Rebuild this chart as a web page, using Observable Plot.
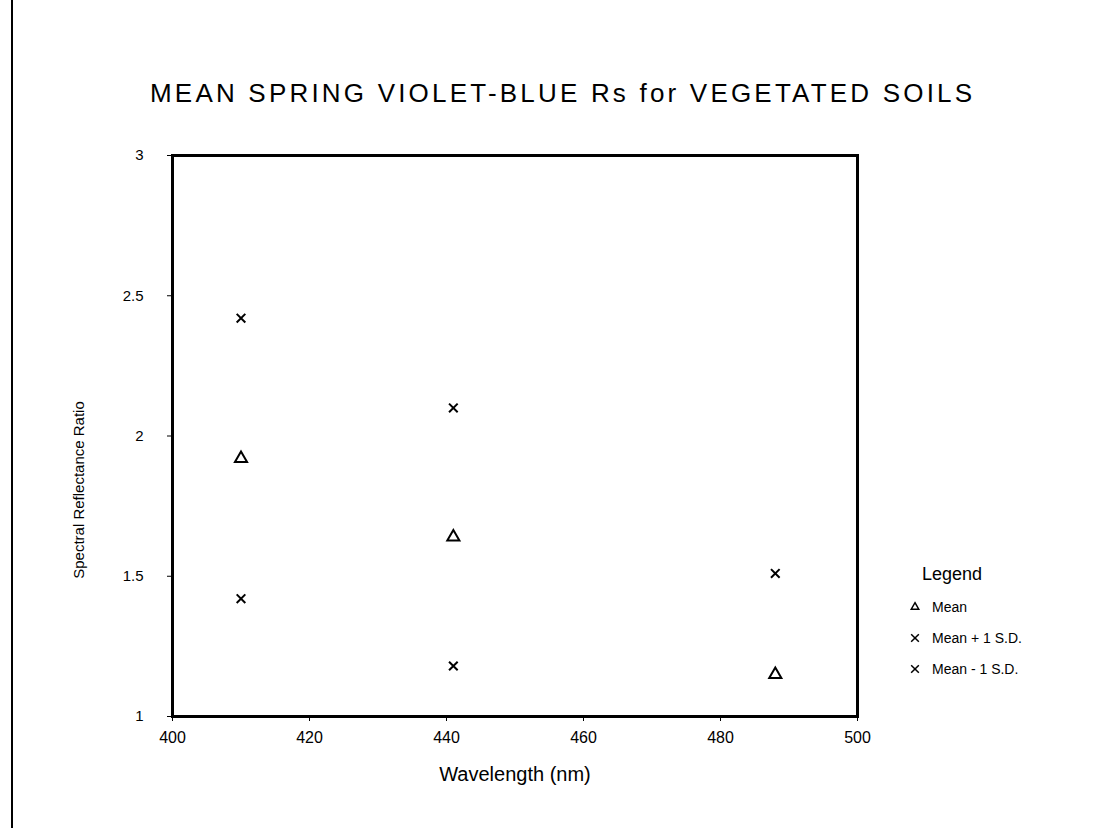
<!DOCTYPE html>
<html>
<head>
<meta charset="utf-8">
<script src="https://cdn.jsdelivr.net/npm/d3@7"></script>
<script src="https://cdn.jsdelivr.net/npm/@observablehq/plot@0.6"></script>
<style>
  html, body { margin: 0; padding: 0; background: #fff; }
  body { width: 1105px; height: 828px; position: relative; overflow: hidden;
         font-family: "Liberation Sans", "DejaVu Sans", sans-serif; color: #000; }
  #edge { position: absolute; left: 11px; top: 0; width: 2px; height: 828px; background: #000; }
  #title { position: absolute; left: 150px; top: 78px; font-size: 26px; letter-spacing: 3.2px; white-space: nowrap; font-weight: 300; }
  #ylab { position: absolute; left: 78px; top: 490px; font-size: 15px; white-space: nowrap;
          transform: translate(-50%, -50%) rotate(-90deg); }
  #legend { position: absolute; left: 908px; top: 564px; font-size: 14px; }
  #legend .hd { font-size: 18px; margin-left: 14px; margin-bottom: 6px; }
  #legend .row { display: flex; align-items: center; height: 31px; }
  #legend svg { margin-right: 10px; }
  #chart { position: absolute; left: 0; top: 0; }
</style>
</head>
<body>
<div id="edge"></div>
<div id="chart"></div>
<div id="title">MEAN SPRING VIOLET-BLUE Rs for VEGETATED SOILS</div>
<div id="ylab">Spectral Reflectance Ratio</div>
<div id="legend"></div>
<script>
// Data
const wavelengths = [410, 441, 488];
const meanValues = [1.92, 1.64, 1.15];
const plusSDValues = [2.42, 2.10, 1.51];
const minusSDWavelengths = [410, 441];
const minusSDValues = [1.42, 1.18];
const xTicks = [400, 420, 440, 460, 480, 500];
const yTicks = [1, 1.5, 2, 2.5, 3];
const legendLabels = ["Mean", "Mean + 1 S.D.", "Mean - 1 S.D."];
const legendSymbols = ["triangle", "times", "times"];

const mean = wavelengths.map((w, i) => ({x: w, y: meanValues[i]}));
const plus = wavelengths.map((w, i) => ({x: w, y: plusSDValues[i]}));
const minus = minusSDWavelengths.map((w, i) => ({x: w, y: minusSDValues[i]}));

const chart = Plot.plot({
  width: 1105,
  height: 828,
  marginLeft: 172,
  marginRight: 248,
  marginTop: 155,
  marginBottom: 112,
  style: {fontFamily: '"Liberation Sans", sans-serif', fontSize: "15px", color: "#000", background: "transparent"},
  x: {domain: [400, 500], label: "Wavelength (nm)"},
  y: {domain: [1, 3], label: null},
  marks: [
    Plot.frame({stroke: "#000", strokeWidth: 3}),
    Plot.axisX({ticks: xTicks, tickSize: 5, tickPadding: 10, fontSize: 16, label: "Wavelength (nm)", labelAnchor: "center", labelOffset: 64, labelArrow: "none", tickFormat: d => String(d)}),
    Plot.axisY({ticks: yTicks, tickSize: 5, tickPadding: 24, fontSize: 15, label: null, tickFormat: d => String(d)}),
    Plot.dot(mean, {x: "x", y: "y", symbol: "triangle", r: 4.5, stroke: "#000", strokeWidth: 2}),
    Plot.dot(plus, {x: "x", y: "y", symbol: "times", r: 4, stroke: "#000", strokeWidth: 2}),
    Plot.dot(minus, {x: "x", y: "y", symbol: "times", r: 4, stroke: "#000", strokeWidth: 2})
  ]
});
chart.querySelectorAll("g[aria-label='x-axis label'] text").forEach(t => t.style.fontSize = "20px");
document.getElementById("chart").appendChild(chart);

// Legend
const leg = document.getElementById("legend");
const hd = document.createElement("div");
hd.className = "hd";
hd.textContent = "Legend";
leg.appendChild(hd);
legendLabels.forEach((lab, i) => {
  const row = document.createElement("div");
  row.className = "row";
  const sym = d3.symbol(legendSymbols[i] === "triangle" ? d3.symbolTriangle2 : d3.symbolTimes, 40)();
  row.innerHTML = `<svg width="14" height="14" viewBox="-7 -7 14 14"><path d="${sym}" fill="none" stroke="#000" stroke-width="1.5"/></svg><span>${lab}</span>`;
  leg.appendChild(row);
});
</script>
</body>
</html>
